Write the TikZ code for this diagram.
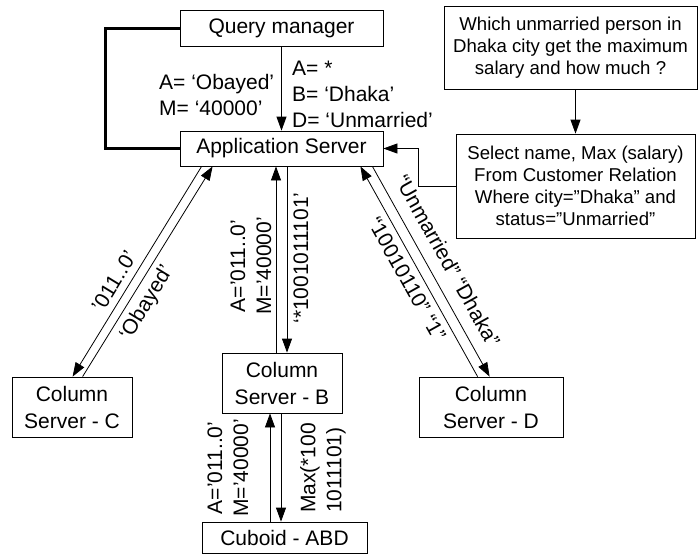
\documentclass[tikz,border=0pt]{standalone}
\usepackage{fontspec}
\setmainfont{Liberation Sans}
\usetikzlibrary{arrows.meta,calc}
\begin{document}
\begin{tikzpicture}[x=1pt,y=-1pt,
  box/.style={draw, line width=0.8pt, inner sep=0pt, align=center, font=\fontsize{21}{27}\selectfont},
  qbox/.style={draw, line width=0.8pt, inner sep=0pt, align=center, font=\fontsize{18.6}{22}\selectfont},
  lbl/.style={inner sep=1pt, font=\fontsize{21}{26}\selectfont},
  conn/.style={line width=0.8pt},
  arr/.style={line width=0.8pt, -{Triangle[length=14pt,width=10pt]}},
  heavy/.style={line width=2.4pt}
]
\useasboundingbox (0,0) rectangle (700,555);

% boxes
\node[box, minimum width=203pt, minimum height=36pt] (qm) at (281.5,28.5) {Query manager};
\node[box, minimum width=203pt, minimum height=35pt] (app) at (281.5,148.5) {Application Server};
\node[qbox, minimum width=253pt, minimum height=83pt] (q) at (570.5,47.5) {Which unmarried person in\\Dhaka city get the maximum\\salary and how much ?};
\node[qbox, minimum width=239pt, minimum height=104pt] (sql) at (575.5,186) {Select name, Max (salary)\\From Customer Relation\\Where city=”Dhaka” and\\status=”Unmarried”};
\node[box, minimum width=120pt, minimum height=60pt] (colc) at (72,407) {Column\\Server - C};
\node[box, minimum width=120pt, minimum height=60pt] (colb) at (282,383) {Column\\Server - B};
\node[box, minimum width=144pt, minimum height=60pt] (cold) at (491,407) {Column\\Server - D};
\node[box, minimum width=165pt, minimum height=31pt] (cub) at (284.5,537.5) {Cuboid - ABD};

% top connectors
\draw[heavy] (qm.west) -- ++(-74,0) |- (app.west);
\draw[arr] (qm.south) -- (app.north);
\draw[arr] (sql.north |- q.south) -- (sql.north);
\draw[arr] (sql.west) -- ++(-37,0) |- (app.east);

% App <-> Column C
\draw[arr] ($(app.south west)+(22,0)$) -- ($(colc.north west)+(61,0)$);
\draw[arr] ($(colc.north west)+(71,0)$) -- ($(app.south west)+(33,0)$);

% App <-> Column B
\coordinate (bdn) at ($(colb.north)+(5,0)$);
\coordinate (bup) at ($(colb.north)+(-6,0)$);
\draw[arr] (app.south -| bdn) -- (bdn);
\draw[arr] (bup) -- (app.south -| bup);

% App <-> Column D
\draw[arr] ($(app.south east)+(-11,0)$) -- ($(cold.north west)+(71,0)$);
\draw[arr] ($(cold.north west)+(59,0)$) -- ($(app.south east)+(-23,0)$);

% Column B <-> Cuboid
\coordinate (cdn) at ($(colb.south)+(-1,0)$);
\coordinate (cup) at ($(colb.south)+(-12,0)$);
\draw[arr] (cdn) -- (cub.north -| cdn);
\draw[arr] (cub.north -| cup) -- (cup);

% labels
\node[lbl, anchor=west, align=left] (l1) at (158,95) {A= ‘Obayed’\\M= ‘40000’};
\node[lbl, anchor=west, align=left] (l2) at (291,94) {A= *\\B= ‘Dhaka’\\D= ‘Unmarried’};
\node[lbl, rotate=58.6] (l3) at (114,281) {’011..0’};
\node[lbl, rotate=58.6] (l4) at (147,303) {‘Obayed’};
\node[lbl, rotate=90, align=center] (l5) at (251,266) {A=’011..0’\\M=’40000’};
\node[lbl, rotate=90] (l6) at (301,258) {‘*1001011101’};
\node[lbl, rotate=-60.8] (l7) at (448,261) {“Unmarried” “Dhaka”};
\node[lbl, rotate=-60.8] (l8) at (407,279) {“10010110” “1”};
\node[lbl, rotate=90, align=center] (l9) at (228,468) {A=’011..0’\\M=’40000’};
\node[lbl, rotate=90, align=left] (l10) at (323,468) {Max(*100\\1011101)};
\end{tikzpicture}
\end{document}
